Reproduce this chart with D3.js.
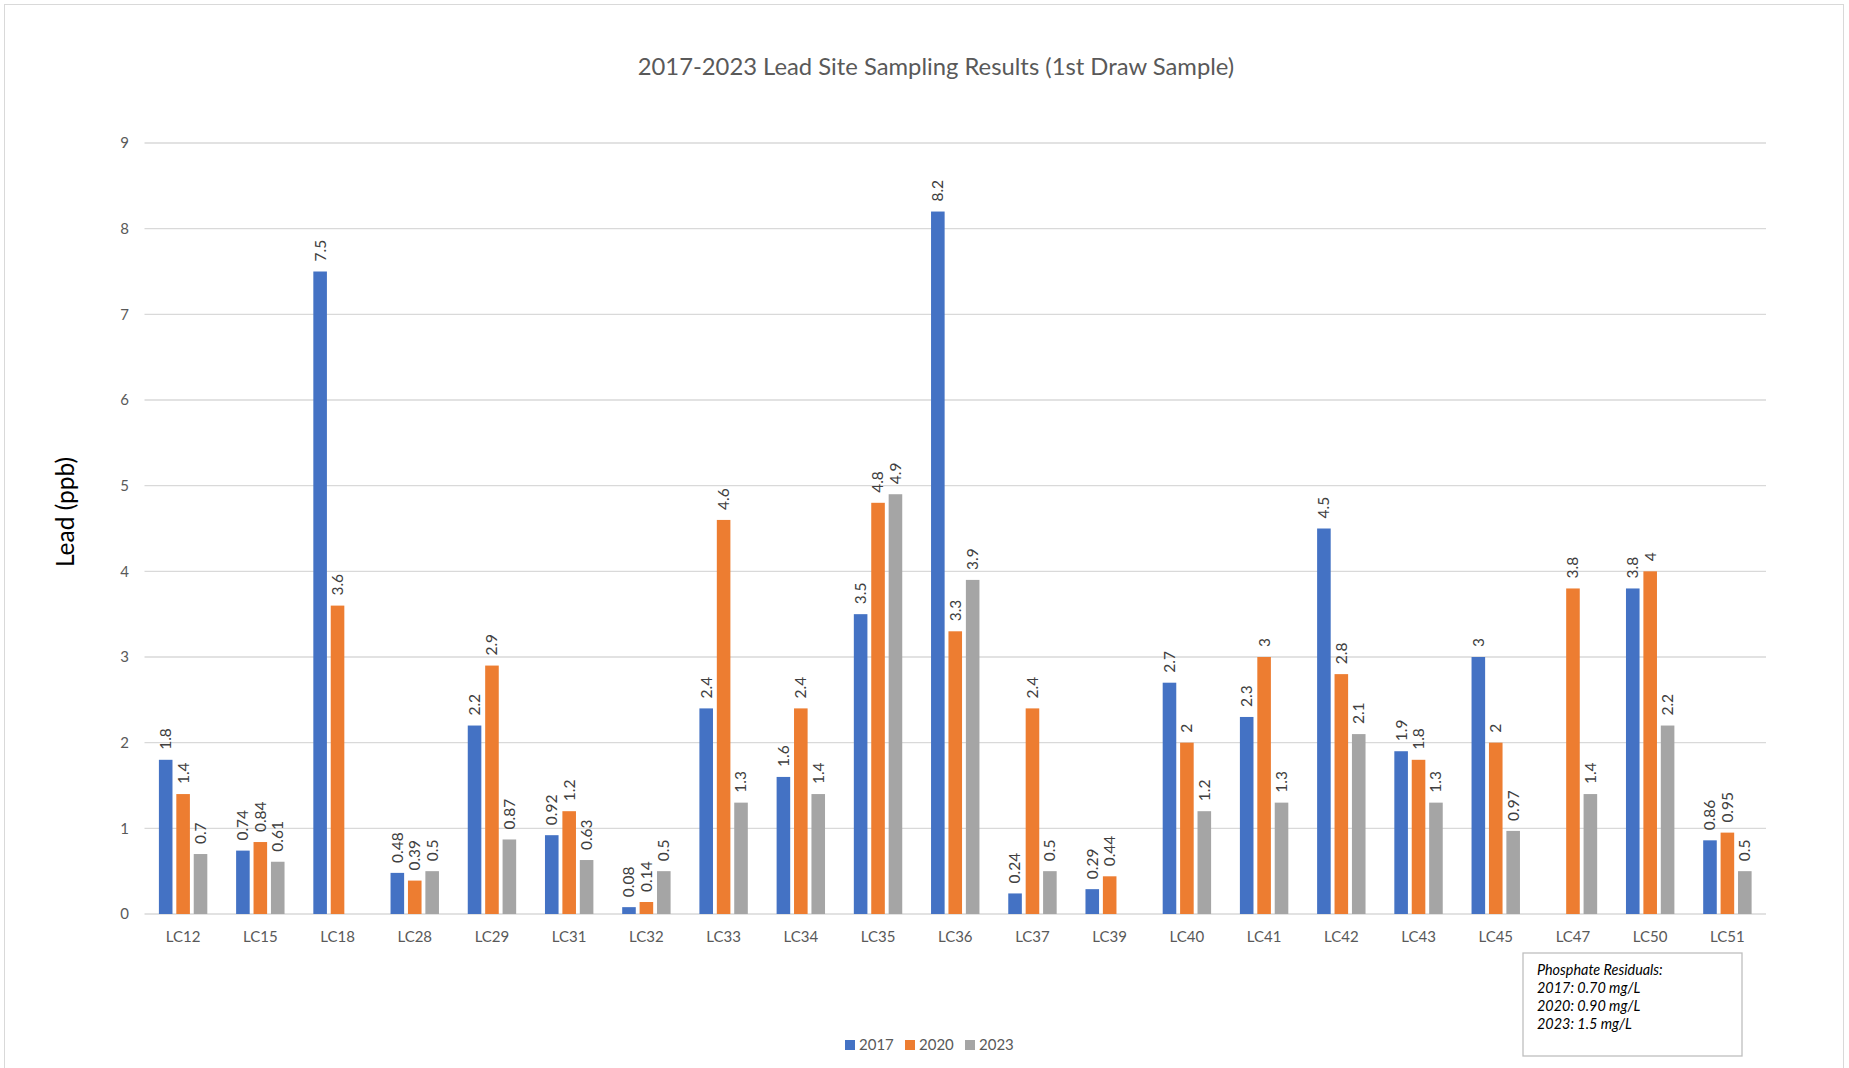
<!DOCTYPE html>
<html>
<head>
<meta charset="utf-8">
<script src="https://cdn.jsdelivr.net/npm/d3@7/dist/d3.min.js"></script>
<style>
  html, body { margin: 0; padding: 0; background: #fff; }
  svg { display: block; }
  text { font-family: Lato, "Open Sans", sans-serif; }
</style>
</head>
<body>
<svg id="chart" width="1849" height="1068"></svg>
<script>
const title = "2017-2023 Lead Site Sampling Results (1st Draw Sample)";
const yAxisTitle = "Lead (ppb)";
const categories = ["LC12","LC15","LC18","LC28","LC29","LC31","LC32","LC33","LC34","LC35","LC36","LC37","LC39","LC40","LC41","LC42","LC43","LC45","LC47","LC50","LC51"];
const seriesNames = ["2017","2020","2023"];
const values2017 = [1.8,0.74,7.5,0.48,2.2,0.92,0.08,2.4,1.6,3.5,8.2,0.24,0.29,2.7,2.3,4.5,1.9,3,null,3.8,0.86];
const values2020 = [1.4,0.84,3.6,0.39,2.9,1.2,0.14,4.6,2.4,4.8,3.3,2.4,0.44,2,3,2.8,1.8,2,3.8,4,0.95];
const values2023 = [0.7,0.61,null,0.5,0.87,0.63,0.5,1.3,1.4,4.9,3.9,0.5,null,1.2,1.3,2.1,1.3,0.97,1.4,2.2,0.5];
const yTicks = [0,1,2,3,4,5,6,7,8,9];
const noteLines = ["Phosphate Residuals:","2017: 0.70 mg/L","2020: 0.90 mg/L","2023: 1.5 mg/L"];

const colors = {"2017":"#4472C4","2020":"#ED7D31","2023":"#A5A5A5"};
const seriesValues = {"2017":values2017,"2020":values2020,"2023":values2023};

const svg = d3.select("#chart");

// chart border
svg.append("rect").attr("x",4.5).attr("y",4.5).attr("width",1839).attr("height",1075)
  .attr("fill","#fff").attr("stroke","#d9d9d9").attr("stroke-width",1);

const plot = {left:144.5, right:1766, top:143, bottom:914};

const x0 = d3.scaleBand().domain(categories).range([plot.left, plot.right])
  .paddingInner(0.373).paddingOuter(0.1865);
const x1 = d3.scaleBand().domain(seriesNames).range([0, x0.bandwidth()]).paddingInner(0.22);
const y = d3.scaleLinear().domain([0,9]).range([plot.bottom, plot.top]);

// gridlines
svg.append("g").selectAll("line").data(yTicks).join("line")
  .attr("x1",plot.left).attr("x2",plot.right)
  .attr("y1",d=>y(d)).attr("y2",d=>y(d))
  .attr("stroke","#d9d9d9").attr("stroke-width",1.3);

// y tick labels
svg.append("g").selectAll("text").data(yTicks).join("text")
  .attr("x",129).attr("y",d=>y(d)).attr("dy","0.35em")
  .attr("text-anchor","end").attr("fill","#595959").attr("font-size",15)
  .text(d=>d);

// x labels
svg.append("g").selectAll("text").data(categories).join("text")
  .attr("x",d=>x0(d)+x0.bandwidth()/2).attr("y",937).attr("dy","0.35em")
  .attr("text-anchor","middle").attr("fill","#595959").attr("font-size",15)
  .text(d=>d);

// bars
const rows = [];
categories.forEach((c,i)=>{
  seriesNames.forEach(s=>{
    const v = seriesValues[s][i];
    if (v !== null && v !== undefined) rows.push({c, s, v});
  });
});

svg.append("g").selectAll("rect").data(rows).join("rect")
  .attr("x",d=>x0(d.c)+x1(d.s)).attr("width",x1.bandwidth())
  .attr("y",d=>y(d.v)).attr("height",d=>y(0)-y(d.v))
  .attr("fill",d=>colors[d.s]);

// data labels
svg.append("g").selectAll("text").data(rows).join("text")
  .attr("transform",d=>`translate(${x0(d.c)+x1(d.s)+x1.bandwidth()/2},${y(d.v)-10}) rotate(-90)`)
  .attr("dy","0.35em").attr("text-anchor","start")
  .attr("fill","#404040").attr("font-size",15.5)
  .text(d=>d.v);

// title
svg.append("text").attr("x",936).attr("y",67).attr("dy","0.35em")
  .attr("text-anchor","middle").attr("fill","#595959").attr("font-size",23.8)
  .text(title);

// y axis title
svg.append("text").attr("transform","translate(65,512) rotate(-90)").attr("dy","0.35em")
  .attr("text-anchor","middle").attr("fill","#000").attr("font-size",24.5)
  .text(yAxisTitle);

// legend
const legendX = [845, 905, 965];
const lg = svg.append("g").selectAll("g").data(seriesNames).join("g")
  .attr("transform",(d,i)=>`translate(${legendX[i]},1045)`);
lg.append("rect").attr("x",0).attr("y",-5).attr("width",10).attr("height",10).attr("fill",d=>colors[d]);
lg.append("text").attr("x",14).attr("y",0).attr("dy","0.35em").attr("fill","#595959").attr("font-size",15).text(d=>d);

// note box
svg.append("rect").attr("x",1523).attr("y",953).attr("width",219).attr("height",103)
  .attr("fill","#fff").attr("stroke","#bfbfbf").attr("stroke-width",1.3);
svg.append("g").selectAll("text").data(noteLines).join("text")
  .attr("x",1537).attr("y",(d,i)=>975+i*18)
  .attr("font-style","italic").attr("fill","#000").attr("font-size",14.4)
  .text(d=>d);
</script>
</body>
</html>
